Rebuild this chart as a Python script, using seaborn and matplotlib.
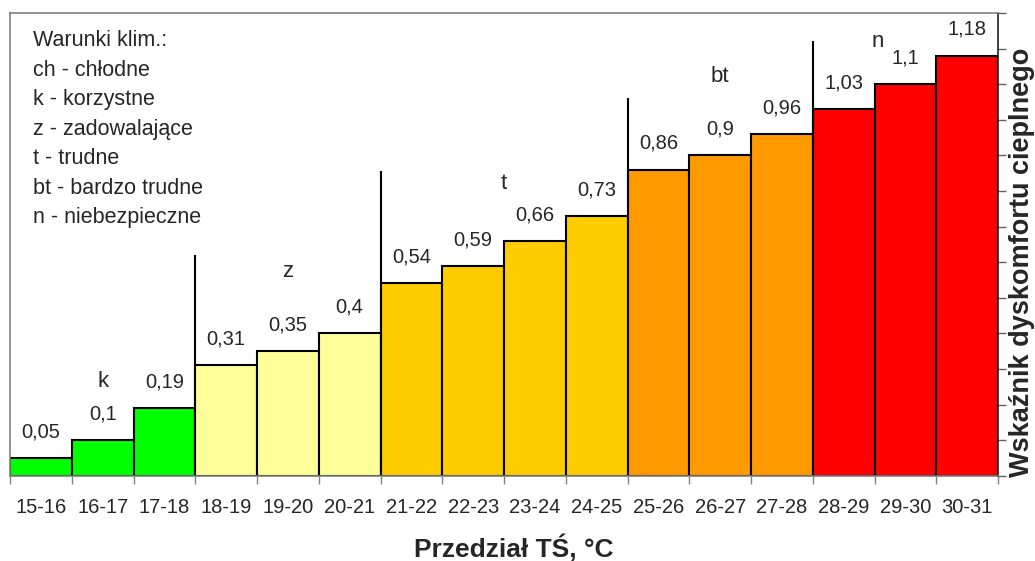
import pandas as pd
import matplotlib.pyplot as plt
import seaborn as sns

# data
intervals = ["15-16", "16-17", "17-18", "18-19", "19-20", "20-21", "21-22", "22-23",
             "23-24", "24-25", "25-26", "26-27", "27-28", "28-29", "29-30", "30-31"]
values = [0.05, 0.1, 0.19, 0.31, 0.35, 0.4, 0.54, 0.59,
          0.66, 0.73, 0.86, 0.9, 0.96, 1.03, 1.1, 1.18]
classes = ["k"] * 3 + ["z"] * 3 + ["t"] * 4 + ["bt"] * 3 + ["n"] * 3

class_colors = {"k": "#00FF00", "z": "#FFFF99", "t": "#FFCC00",
                "bt": "#FF9900", "n": "#FF0000"}

# class labels drawn over the groups (x in bar index, y in data units)
group_labels = ["k", "z", "t", "bt", "n"]
group_label_x = [1, 4, 7.5, 11, 13.55]
group_label_y = [0.265, 0.575, 0.82, 1.12, 1.22]

# separator lines between classes: x position, y from, y to
sep_x = [2.5, 5.5, 9.5, 12.5]
sep_ymin = [0.0, 0.0, 0.75, 0.92]
sep_ymax = [0.62, 0.855, 1.06, 1.22]

legend_lines = ["Warunki klim.:", "ch - chłodne", "k - korzystne", "z - zadowalające",
                "t - trudne", "bt - bardzo trudne", "n - niebezpieczne"]

df = pd.DataFrame({"interval": intervals, "value": values, "class": classes})

sns.set_style("white")
plt.rcParams["font.family"] = ["Liberation Sans", "DejaVu Sans"]

fig = plt.figure(figsize=(10.35, 5.61), dpi=100)
ax = fig.add_axes([0.0097, 0.152, 0.9546, 0.825])

sns.barplot(data=df, x="interval", y="value", hue="class", palette=class_colors,
            saturation=1, dodge=False, width=1.0, edgecolor="black", linewidth=1.5,
            legend=False, ax=ax)

for cont in ax.containers:
    labels = []
    for bar in cont:
        h = bar.get_height()
        labels.append(f"{h:g}".replace(".", ",") if h == h and h > 0 else "")
    ax.bar_label(cont, labels=labels, padding=12, fontsize=14.5)

for lab, x, y in zip(group_labels, group_label_x, group_label_y):
    ax.text(x, y, lab, ha="center", va="center", fontsize=16)

ax.vlines(sep_x, sep_ymin, sep_ymax, colors="black", linewidth=1.5)

ax.text(0.0233, 0.962, "\n".join(legend_lines), transform=ax.transAxes,
        ha="left", va="top", fontsize=15.5, linespacing=1.53)

ax.set_xlim(-0.5, len(intervals) - 0.5)
ax.set_ylim(0, 1.3)

# x: labels centred on bars, tick marks at bar edges
ax.set_xticks(range(len(intervals)))
ax.set_xticklabels(intervals, fontsize=14.5)
ax.set_xticks([i - 0.5 for i in range(len(intervals) + 1)], minor=True)
ax.tick_params(axis="x", which="major", length=0, pad=16)
ax.tick_params(axis="x", which="minor", length=6, width=1, color="#808080",
               direction="out", bottom=True)

# y: ticks on the right, no labels
ax.yaxis.tick_right()
ax.set_yticks([i / 10 for i in range(14)])
ax.set_yticklabels([])
ax.tick_params(axis="y", which="major", length=6, width=1, color="#606060",
               direction="out", right=True, left=False)
ax.yaxis.set_label_position("right")
ax.set_ylabel("Wskaźnik dyskomfortu cieplnego", fontsize=19.5, fontweight="bold")
ax.yaxis.set_label_coords(1.011, 0.46)

ax.set_xlabel("Przedział TŚ, °C", fontsize=19, fontweight="bold")
ax.xaxis.set_label_coords(0.51, -0.127)

for side in ["top", "left", "bottom"]:
    ax.spines[side].set_color("#808080")
    ax.spines[side].set_linewidth(1.2)
ax.spines["right"].set_color("#202020")
ax.spines["right"].set_linewidth(1.2)

plt.savefig("out.png", dpi=100)
plt.close()
